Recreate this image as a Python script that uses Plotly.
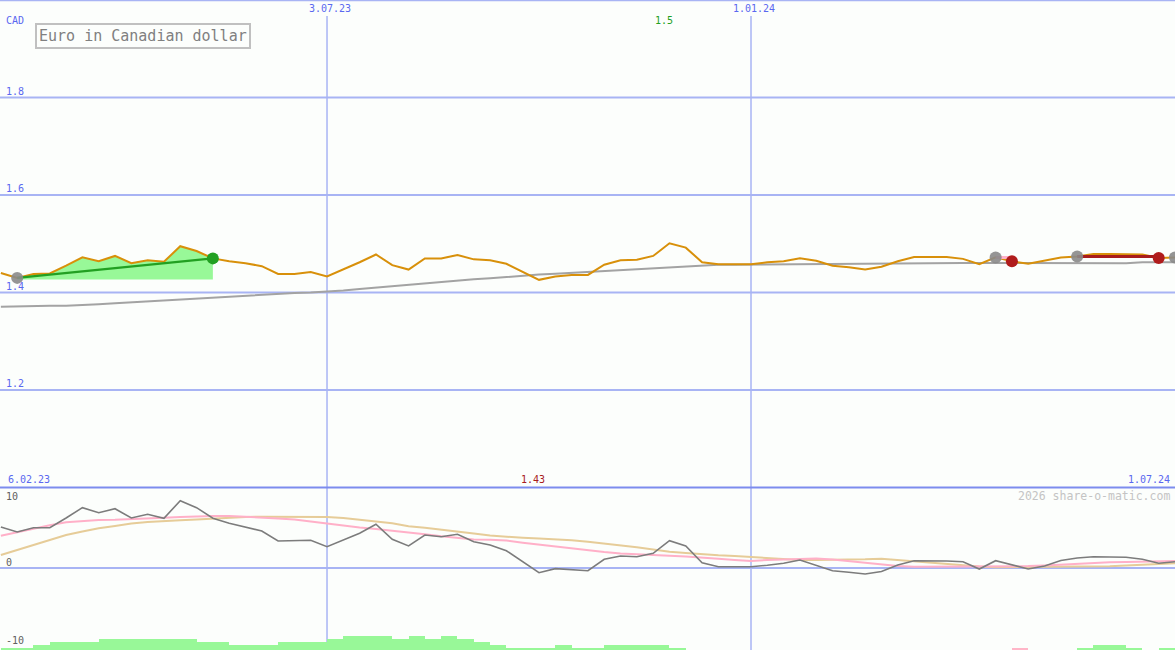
import pandas as pd
import plotly.graph_objects as go

# ---------------- data ----------------
week_start = "2023-02-13"
n_weeks = 73
dates = pd.date_range(week_start, periods=n_weeks, freq="7D")

price = [1.440, 1.430, 1.438, 1.439, 1.455, 1.472, 1.464, 1.475, 1.460, 1.466,
         1.463, 1.495, 1.485, 1.470, 1.464, 1.460, 1.454, 1.438, 1.438, 1.442,
         1.433, 1.447, 1.462, 1.478, 1.456, 1.447, 1.470, 1.470, 1.477, 1.468,
         1.466, 1.459, 1.442, 1.426, 1.433, 1.436, 1.436, 1.457, 1.466, 1.467,
         1.475, 1.501, 1.492, 1.462, 1.458, 1.458, 1.458, 1.462, 1.464, 1.470,
         1.465, 1.455, 1.452, 1.447, 1.453, 1.464, 1.473, 1.473, 1.473, 1.469,
         1.458, 1.472, 1.464, 1.459, 1.466, 1.472, 1.474, 1.479, 1.479, 1.479,
         1.478, 1.471, 1.472]

ma_long = [1.371, 1.372, 1.372, 1.373, 1.373, 1.374, 1.376, 1.378, 1.380, 1.382,
           1.384, 1.386, 1.388, 1.390, 1.392, 1.394, 1.396, 1.398, 1.399, 1.400,
           1.4016, 1.404, 1.407, 1.410, 1.412, 1.415, 1.418, 1.421, 1.424, 1.427,
           1.429, 1.432, 1.435, 1.437, 1.4386, 1.4405, 1.4425, 1.444, 1.4457, 1.4477,
           1.4496, 1.452, 1.4544, 1.4556, 1.4568, 1.4571, 1.4574, 1.4576, 1.4578, 1.458,
           1.4582, 1.4586, 1.459, 1.460, 1.4607, 1.4609, 1.461, 1.4608, 1.4607, 1.4606,
           1.4605, 1.4604, 1.4603, 1.4603, 1.4603, 1.4602, 1.4601, 1.460, 1.460, 1.460,
           1.462, 1.462, 1.462]

osc = [6.03, 5.29, 5.93, 5.93, 7.35, 8.87, 8.13, 8.72, 7.35, 7.90,
       7.31, 9.90, 8.87, 7.31, 6.57, 5.99, 5.44, 3.97, 3.97, 4.07,
       3.13, 4.12, 5.10, 6.43, 4.22, 3.24, 4.85, 4.60, 4.96, 3.87,
       3.38, 2.54, 0.93, -0.69, -0.10, -0.29, -0.40, 1.28, 1.76, 1.66,
       2.16, 4.01, 3.24, 0.78, 0.19, 0.19, 0.19, 0.40, 0.69, 1.18,
       0.44, -0.40, -0.63, -0.88, -0.51, 0.44, 1.07, 1.07, 1.03, 0.93,
       -0.15, 1.07, 0.44, -0.15, 0.29, 1.10, 1.47, 1.66, 1.62, 1.57,
       1.28, 0.69, 0.93]

osc_fast = [4.75, 5.29, 5.84, 6.28, 6.72, 6.91, 7.06, 7.10, 7.16, 7.26,
            7.38, 7.50, 7.62, 7.65, 7.65, 7.56, 7.43, 7.28, 7.12, 6.82,
            6.57, 6.28, 5.96, 5.74, 5.51, 5.22, 4.97, 4.66, 4.38, 4.18,
            4.15, 4.03, 3.71, 3.43, 3.12, 2.82, 2.57, 2.35, 2.15, 2.00,
            1.90, 1.79, 1.68, 1.56, 1.35, 1.18, 1.03, 1.18, 1.22, 1.28,
            1.40, 1.25, 1.03, 0.81, 0.53, 0.29, 0.19, 0.19, 0.22, 0.28,
            0.24, 0.19, 0.24, 0.28, 0.37, 0.50, 0.62, 0.74, 0.84, 0.90,
            0.94, 0.99, 1.03]

osc_slow = [1.91, 2.65, 3.38, 4.12, 4.85, 5.37, 5.84, 6.18, 6.54, 6.76,
            6.93, 7.03, 7.15, 7.28, 7.43, 7.50, 7.54, 7.54, 7.54, 7.54,
            7.50, 7.35, 7.15, 6.84, 6.57, 6.13, 5.91, 5.66, 5.37, 5.07,
            4.78, 4.56, 4.44, 4.32, 4.21, 4.07, 3.85, 3.60, 3.32, 3.04,
            2.72, 2.38, 2.21, 2.00, 1.87, 1.76, 1.59, 1.43, 1.29, 1.18,
            1.18, 1.18, 1.22, 1.28, 1.37, 1.18, 1.00, 0.81, 0.59, 0.38,
            0.22, 0.12, 0.13, 0.18, 0.19, 0.19, 0.19, 0.19, 0.25, 0.38,
            0.47, 0.59, 0.69]

# weekly signal histogram (positive = green, negative = pink)
hist = [1, 1, 2, 3, 3, 3, 4, 4, 4, 4,
        4, 4, 3, 3, 2, 2, 2, 3, 3, 3,
        4, 5, 5, 5, 4, 5, 4, 5, 4, 3,
        2, 1, 1, 1, 2, 1, 1, 2, 2, 2,
        2, 1, 0, 0, 0, 0, 0, 0, 0, 0,
        0, 0, 0, 0, 0, 0, 0, 0, 0, 0,
        0, 0, -1, 0, 0, 0, 1, 2, 2, 1,
        0, 1, 0]

# trend / signal markers (week indices)
trend_start, trend_end = 1, 13
fill_base = 1.4267
entries = [1, 61, 66, 72]
exits_loss = [62, 71]
trades = [(61, 62, "#ffb0c8"), (66, 71, "#a81c1c")]

tick_dates = ["2023-07-03", "2024-01-01"]
tick_date_labels = ["3.07.23", "1.01.24"]
y_ticks = [1.2, 1.4, 1.6, 1.8]
y_tick_labels = ["1.2", "1.4", "1.6", "1.8"]
osc_ticks = [10, 0, -10]
osc_tick_labels = ["10", "0", "-10"]

title = "Euro in Canadian dollar"
currency = "CAD"
start_label, end_label = "6.02.23", "1.07.24"
max_label, min_label = "1.5", "1.43"
watermark = "2026 share-o-matic.com"

assert all(len(s) == n_weeks for s in [price, ma_long, osc, osc_fast, osc_slow, hist])

# ---------------- styles ----------------
W, H = 1175, 650
FONT = "DejaVu Sans Mono"
BLUE_TXT = "#5a68f0"
GRID = "#a8b4f4"
SEP = "#7d8cee"
BG = "#fcfefc"
ORANGE = "#d8900a"
GRAY_MA = "#a3a3a3"

def py(px):
    return 1 - px / H

fig = go.Figure()

# gray long average
fig.add_trace(go.Scatter(x=dates, y=ma_long, mode="lines",
                         line=dict(color=GRAY_MA, width=2), yaxis="y"))

# green fill region between baseline and price
seg = slice(trend_start, trend_end + 1)
fig.add_trace(go.Scatter(x=dates[seg], y=[fill_base] * (trend_end - trend_start + 1),
                         mode="lines", line=dict(width=0, color="rgba(0,0,0,0)"), yaxis="y"))
fig.add_trace(go.Scatter(x=dates[seg], y=price[seg], mode="lines", fill="tonexty",
                         fillcolor="#98f898", line=dict(width=0, color="rgba(0,0,0,0)"), yaxis="y"))

# price
fig.add_trace(go.Scatter(x=dates, y=price, mode="lines",
                         line=dict(color=ORANGE, width=2), yaxis="y"))

# green trend line
fig.add_trace(go.Scatter(x=[dates[trend_start], dates[trend_end]],
                         y=[price[trend_start], price[trend_end]], mode="lines",
                         line=dict(color="#22a022", width=2.5), yaxis="y"))

# trade segments
for a, b, col in trades:
    fig.add_trace(go.Scatter(x=[dates[a], dates[b]], y=[price[a], price[a]], mode="lines",
                             line=dict(color=col, width=3), yaxis="y"))

# markers
fig.add_trace(go.Scatter(x=[dates[i] for i in entries], y=[price[i] for i in entries],
                         mode="markers", marker=dict(color="#8a8a8a", size=12, opacity=0.9),
                         yaxis="y"))
fig.add_trace(go.Scatter(x=[dates[trend_end]], y=[price[trend_end]], mode="markers",
                         marker=dict(color="#22a022", size=12), yaxis="y"))
fig.add_trace(go.Scatter(x=[dates[i] for i in exits_loss], y=[price[i] for i in exits_loss],
                         mode="markers", marker=dict(color="#b01c1c", size=12), yaxis="y"))

# bottom histogram
bar_colors = ["#98f898" if v > 0 else "#ffb6c8" for v in hist]
fig.add_trace(go.Bar(x=dates, y=[abs(v) for v in hist], marker=dict(color=bar_colors, line=dict(width=0)),
                     offset=0, width=7 * 24 * 3600 * 1000, yaxis="y3"))

# oscillators
fig.add_trace(go.Scatter(x=dates, y=osc_slow, mode="lines",
                         line=dict(color="#e6cc98", width=2), yaxis="y2"))
fig.add_trace(go.Scatter(x=dates, y=osc_fast, mode="lines",
                         line=dict(color="#ffb0c8", width=2), yaxis="y2"))
fig.add_trace(go.Scatter(x=dates, y=osc, mode="lines",
                         line=dict(color="#7c7c7c", width=1.6), yaxis="y2"))

# ---------------- layout ----------------
shapes = []
# top horizontal grid
for v in y_ticks:
    shapes.append(dict(type="line", xref="paper", yref="y", x0=0, x1=1, y0=v, y1=v,
                       line=dict(color=GRID, width=2), layer="below"))
# zero line bottom
shapes.append(dict(type="line", xref="paper", yref="y2", x0=0, x1=1, y0=0, y1=0,
                   line=dict(color=GRID, width=2), layer="below"))
# vertical date lines
for d in tick_dates:
    shapes.append(dict(type="line", xref="x", yref="paper", x0=d, x1=d, y0=0, y1=py(16),
                       line=dict(color=GRID, width=1.5), layer="below"))
# top border and panel separator
shapes.append(dict(type="line", xref="paper", yref="paper", x0=0, x1=1, y0=py(0.5), y1=py(0.5),
                   line=dict(color=GRID, width=1.5)))
shapes.append(dict(type="line", xref="paper", yref="paper", x0=0, x1=1, y0=0.25, y1=0.25,
                   line=dict(color=SEP, width=2)))

ann = []
def A(text, x, y, xref="paper", yref="paper", color=BLUE_TXT, size=10, xanchor="left",
      yanchor="middle", xshift=0, **kw):
    ann.append(dict(text=text, x=x, y=y, xref=xref, yref=yref, showarrow=False,
                    font=dict(family=FONT, size=size, color=color),
                    xanchor=xanchor, yanchor=yanchor, xshift=xshift, **kw))

for v, t in zip(y_ticks, y_tick_labels):
    A(t, 4 / W, v, yref="y", yanchor="bottom", yshift=-1)
A(currency, 4 / W, py(20))
for d, t in zip(tick_dates, tick_date_labels):
    A(t, d, py(8), xref="x", xanchor="center", xshift=3)
A(max_label, dates[price.index(max(price))], py(21), xref="x", xanchor="center",
  color="#22a022", xshift=-5)
A(min_label, dates[price.index(min(price))], py(479), xref="x", xanchor="center",
  color="#a81c1c", xshift=-6)
A(start_label, 6 / W, py(479))
A(end_label, 1 - 3 / W, py(479), xanchor="right")
A(watermark, 1 - 3 / W, py(495.5), xanchor="right", color="#c4c4c4", size=11.5)
for v, t in zip(osc_ticks, osc_tick_labels):
    A(t, 4 / W, {10: py(496), 0: py(562), -10: py(640)}[v], color="#606060")
A(title, 35 / W, py(36.3), color="#808080", size=15, bordercolor="#c0c0c0",
  borderwidth=2, borderpad=2, bgcolor=BG)

px_per_unit = 6.8
zero_px_from_bottom = 650 - 568

fig.update_layout(
    width=W, height=H, autosize=False,
    margin=dict(l=0, r=0, t=0, b=0),
    paper_bgcolor=BG, plot_bgcolor=BG,
    showlegend=False, hovermode=False,
    bargap=0,
    xaxis=dict(range=["2023-02-12 15:00", "2024-07-01"], showgrid=False, zeroline=False,
               showticklabels=False, showline=False, fixedrange=True),
    yaxis=dict(domain=[0.25, 1], range=[1.0, 2.0], showgrid=False, zeroline=False,
               showticklabels=False, fixedrange=True),
    yaxis2=dict(domain=[0, 0.25],
                range=[-zero_px_from_bottom / px_per_unit,
                       (162.5 - zero_px_from_bottom) / px_per_unit],
                showgrid=False, zeroline=False, showticklabels=False, fixedrange=True),
    yaxis3=dict(overlaying="y2", range=[0, 162.5 / 3], showgrid=False, zeroline=False,
                showticklabels=False, fixedrange=True),
    shapes=shapes, annotations=ann,
)

fig.write_html("out.html", config={"displayModeBar": False},
               post_script="document.body.style.margin='0';document.body.style.overflow='hidden';"
                           "document.body.style.background='" + BG + "';")
